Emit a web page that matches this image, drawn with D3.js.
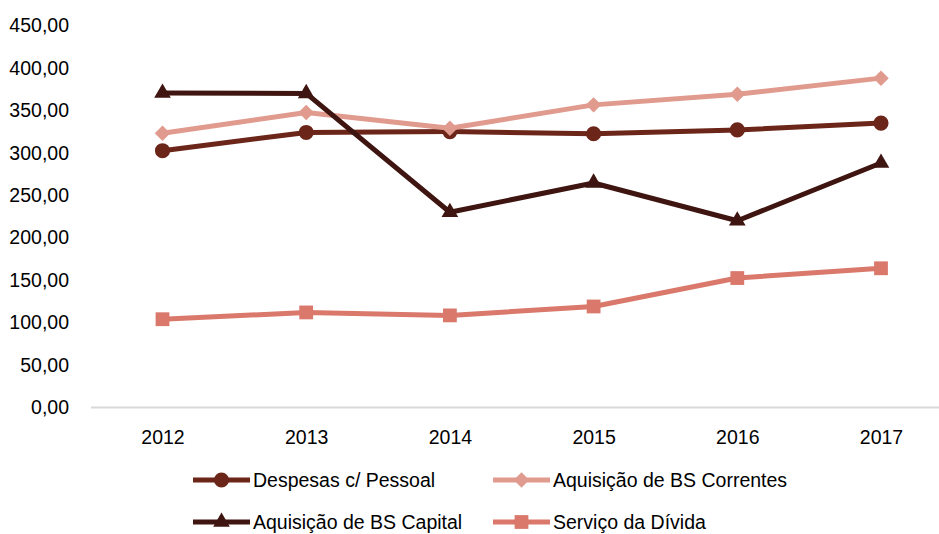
<!DOCTYPE html>
<html>
<head>
<meta charset="utf-8">
<script src="https://cdn.jsdelivr.net/npm/d3@7"></script>
<style>
  html, body { margin: 0; padding: 0; background: #fff; }
  svg { display: block; font-family: "Liberation Sans", Arial, sans-serif; }
</style>
</head>
<body>
<svg id="chart" width="939" height="534"></svg>
<script>
// Despesas por rubrica, 2012–2017
const years = ["2012", "2013", "2014", "2015", "2016", "2017"];
const despesasPessoal = [302.5, 324, 325, 322.5, 327, 335];
const bsCorrentes = [323, 347.5, 329, 356.5, 369, 388];
const bsCapital = [370.5, 370, 230, 264.5, 220, 288];
const servicoDivida = [104, 112, 108.5, 119, 152.5, 164];
const yTicks = [0, 50, 100, 150, 200, 250, 300, 350, 400, 450];

// Square diamond (equal diagonals), unlike d3.symbolDiamond which is tall
const squareDiamond = {
  draw(context, size) {
    const r = Math.sqrt(size / 2);
    context.moveTo(0, -r);
    context.lineTo(r, 0);
    context.lineTo(0, r);
    context.lineTo(-r, 0);
    context.closePath();
  }
};

const series = [
  { name: "Despesas c/ Pessoal", values: despesasPessoal, color: "#6b2519", symbol: d3.symbolCircle, size: 180 },
  { name: "Aquisição de BS Correntes", values: bsCorrentes, color: "#e09b8e", symbol: squareDiamond, size: 120 },
  { name: "Aquisição de BS Capital", values: bsCapital, color: "#3e1510", symbol: d3.symbolTriangle, size: 120 },
  { name: "Serviço da Dívida", values: servicoDivida, color: "#d9786b", symbol: d3.symbolSquare, size: 190 }
];

const svg = d3.select("#chart");
const fmt = v => d3.format(".2f")(v).replace(".", ",");

const x = d3.scalePoint().domain(years).range([162.5, 881]);
const y = d3.scaleLinear().domain([0, 450]).range([407.5, 25.5]);

// Y axis labels (no axis line)
const yAxis = svg.append("g")
  .attr("transform", "translate(69,0)")
  .call(d3.axisLeft(y).tickValues(yTicks).tickFormat(fmt).tickSize(0).tickPadding(0));
yAxis.select(".domain").remove();
yAxis.selectAll("text").attr("font-size", "19.5px").attr("fill", "#000")
  .attr("font-family", "Liberation Sans, Arial, sans-serif");

// X axis baseline
svg.append("line")
  .attr("x1", 91).attr("x2", 939)
  .attr("y1", y(0)).attr("y2", y(0))
  .attr("stroke", "#d9d9d9").attr("stroke-width", 2);

const xAxis = svg.append("g")
  .attr("transform", `translate(0,${y(0)})`)
  .call(d3.axisBottom(x).tickSize(0).tickPadding(23));
xAxis.select(".domain").remove();
xAxis.selectAll("text").attr("font-size", "19.5px").attr("fill", "#000")
  .attr("font-family", "Liberation Sans, Arial, sans-serif");

const line = d3.line().x((d, i) => x(years[i])).y(d => y(d));

series.forEach(s => {
  const g = svg.append("g");
  g.append("path")
    .attr("d", line(s.values))
    .attr("fill", "none")
    .attr("stroke", s.color)
    .attr("stroke-width", 5)
    .attr("stroke-linejoin", "round");
  g.selectAll("path.pt")
    .data(s.values)
    .join("path")
    .attr("class", "pt")
    .attr("transform", (d, i) => `translate(${x(years[i])},${y(d)})`)
    .attr("d", d3.symbol().type(s.symbol).size(s.size))
    .attr("fill", s.color);
});

// Legend: two rows, two columns
const legendPos = [[193, 480], [493, 480], [193, 522], [493, 522]];
series.forEach((s, i) => {
  const [lx, ly] = legendPos[i];
  const g = svg.append("g").attr("transform", `translate(${lx},${ly})`);
  g.append("line").attr("x1", 0).attr("x2", 57).attr("y1", 0).attr("y2", 0)
    .attr("stroke", s.color).attr("stroke-width", 5);
  g.append("path").attr("transform", "translate(28.5,0)")
    .attr("d", d3.symbol().type(s.symbol).size(s.size)).attr("fill", s.color);
  g.append("text").attr("x", 60).attr("y", 0).attr("dy", "0.35em")
    .attr("font-size", "19.5px").attr("fill", "#000")
    .text(s.name);
});
</script>
</body>
</html>
